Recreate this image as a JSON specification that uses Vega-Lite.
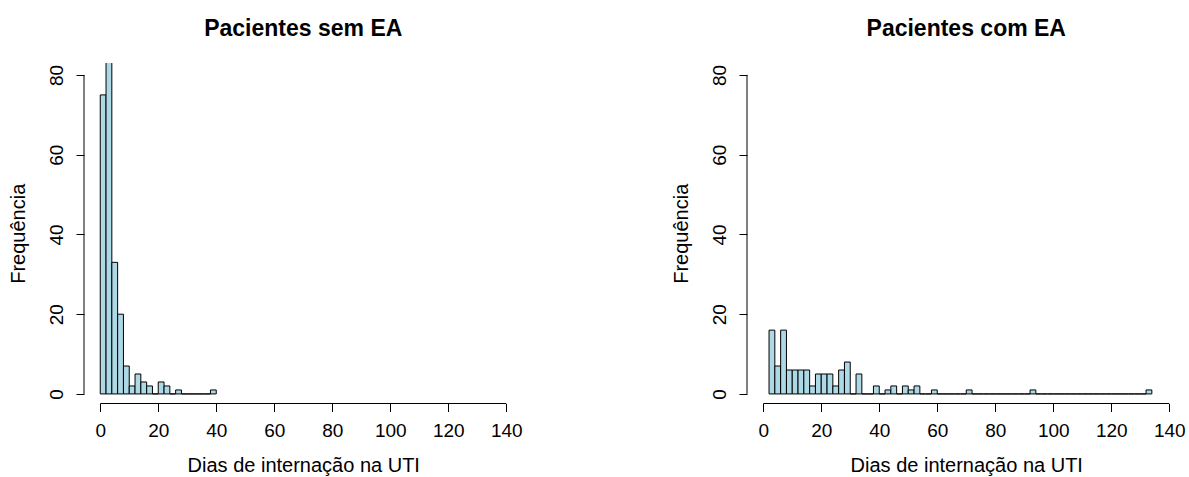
{
  "$schema": "https://vega.github.io/schema/vega-lite/v6.json",
  "background": "white",
  "padding": {"left": 7, "top": 17, "right": 0, "bottom": 0},
  "autosize": {"type": "pad"},
  "bounds": "flush",
  "spacing": 224,
  "config": {
    "view": {"stroke": null},
    "font": "Liberation Sans",
    "axis": {"grid": false, "domain": false, "tickColor": "black", "tickSize": 8, "tickWidth": 1, "labelColor": "black", "labelFont": "Liberation Sans", "labelFontSize": 19, "titleFont": "Liberation Sans", "titleFontSize": 20, "titleFontWeight": "normal", "titleColor": "black", "labelFlush": false, "labelOverlap": false},
    "title": {"font": "Liberation Sans", "fontSize": 23, "fontWeight": "bold", "color": "black", "anchor": "middle", "frame": "group", "baseline": "alphabetic", "offset": 22.5}
  },
  "datasets": {
    "sem": [
      {"inicio": 0, "fim": 2, "frequencia": 75},
      {"inicio": 2, "fim": 4, "frequencia": 90},
      {"inicio": 4, "fim": 6, "frequencia": 33},
      {"inicio": 6, "fim": 8, "frequencia": 20},
      {"inicio": 8, "fim": 10, "frequencia": 7},
      {"inicio": 10, "fim": 12, "frequencia": 2},
      {"inicio": 12, "fim": 14, "frequencia": 5},
      {"inicio": 14, "fim": 16, "frequencia": 3},
      {"inicio": 16, "fim": 18, "frequencia": 2},
      {"inicio": 18, "fim": 20, "frequencia": 0},
      {"inicio": 20, "fim": 22, "frequencia": 3},
      {"inicio": 22, "fim": 24, "frequencia": 2},
      {"inicio": 24, "fim": 26, "frequencia": 0},
      {"inicio": 26, "fim": 28, "frequencia": 1},
      {"inicio": 28, "fim": 30, "frequencia": 0},
      {"inicio": 30, "fim": 32, "frequencia": 0},
      {"inicio": 32, "fim": 34, "frequencia": 0},
      {"inicio": 34, "fim": 36, "frequencia": 0},
      {"inicio": 36, "fim": 38, "frequencia": 0},
      {"inicio": 38, "fim": 40, "frequencia": 1}
    ],
    "com": [
      {"inicio": 2, "fim": 4, "frequencia": 16},
      {"inicio": 4, "fim": 6, "frequencia": 7},
      {"inicio": 6, "fim": 8, "frequencia": 16},
      {"inicio": 8, "fim": 10, "frequencia": 6},
      {"inicio": 10, "fim": 12, "frequencia": 6},
      {"inicio": 12, "fim": 14, "frequencia": 6},
      {"inicio": 14, "fim": 16, "frequencia": 6},
      {"inicio": 16, "fim": 18, "frequencia": 2},
      {"inicio": 18, "fim": 20, "frequencia": 5},
      {"inicio": 20, "fim": 22, "frequencia": 5},
      {"inicio": 22, "fim": 24, "frequencia": 5},
      {"inicio": 24, "fim": 26, "frequencia": 2},
      {"inicio": 26, "fim": 28, "frequencia": 6},
      {"inicio": 28, "fim": 30, "frequencia": 8},
      {"inicio": 30, "fim": 32, "frequencia": 0},
      {"inicio": 32, "fim": 34, "frequencia": 5},
      {"inicio": 34, "fim": 36, "frequencia": 0},
      {"inicio": 36, "fim": 38, "frequencia": 0},
      {"inicio": 38, "fim": 40, "frequencia": 2},
      {"inicio": 40, "fim": 42, "frequencia": 0},
      {"inicio": 42, "fim": 44, "frequencia": 1},
      {"inicio": 44, "fim": 46, "frequencia": 2},
      {"inicio": 46, "fim": 48, "frequencia": 0},
      {"inicio": 48, "fim": 50, "frequencia": 2},
      {"inicio": 50, "fim": 52, "frequencia": 1},
      {"inicio": 52, "fim": 54, "frequencia": 2},
      {"inicio": 54, "fim": 56, "frequencia": 0},
      {"inicio": 56, "fim": 58, "frequencia": 0},
      {"inicio": 58, "fim": 60, "frequencia": 1},
      {"inicio": 60, "fim": 62, "frequencia": 0},
      {"inicio": 62, "fim": 64, "frequencia": 0},
      {"inicio": 64, "fim": 66, "frequencia": 0},
      {"inicio": 66, "fim": 68, "frequencia": 0},
      {"inicio": 68, "fim": 70, "frequencia": 0},
      {"inicio": 70, "fim": 72, "frequencia": 1},
      {"inicio": 72, "fim": 74, "frequencia": 0},
      {"inicio": 74, "fim": 76, "frequencia": 0},
      {"inicio": 76, "fim": 78, "frequencia": 0},
      {"inicio": 78, "fim": 80, "frequencia": 0},
      {"inicio": 80, "fim": 82, "frequencia": 0},
      {"inicio": 82, "fim": 84, "frequencia": 0},
      {"inicio": 84, "fim": 86, "frequencia": 0},
      {"inicio": 86, "fim": 88, "frequencia": 0},
      {"inicio": 88, "fim": 90, "frequencia": 0},
      {"inicio": 90, "fim": 92, "frequencia": 0},
      {"inicio": 92, "fim": 94, "frequencia": 1},
      {"inicio": 94, "fim": 96, "frequencia": 0},
      {"inicio": 96, "fim": 98, "frequencia": 0},
      {"inicio": 98, "fim": 100, "frequencia": 0},
      {"inicio": 100, "fim": 102, "frequencia": 0},
      {"inicio": 102, "fim": 104, "frequencia": 0},
      {"inicio": 104, "fim": 106, "frequencia": 0},
      {"inicio": 106, "fim": 108, "frequencia": 0},
      {"inicio": 108, "fim": 110, "frequencia": 0},
      {"inicio": 110, "fim": 112, "frequencia": 0},
      {"inicio": 112, "fim": 114, "frequencia": 0},
      {"inicio": 114, "fim": 116, "frequencia": 0},
      {"inicio": 116, "fim": 118, "frequencia": 0},
      {"inicio": 118, "fim": 120, "frequencia": 0},
      {"inicio": 120, "fim": 122, "frequencia": 0},
      {"inicio": 122, "fim": 124, "frequencia": 0},
      {"inicio": 124, "fim": 126, "frequencia": 0},
      {"inicio": 126, "fim": 128, "frequencia": 0},
      {"inicio": 128, "fim": 130, "frequencia": 0},
      {"inicio": 130, "fim": 132, "frequencia": 0},
      {"inicio": 132, "fim": 134, "frequencia": 1}
    ]
  },
  "hconcat": [
    {
      "title": "Pacientes sem EA",
      "width": 438.5,
      "height": 340.5,
      "layer": [
        {
          "data": {"name": "sem"},
          "mark": {"type": "bar", "fill": "#ADD8E6", "stroke": "black", "strokeWidth": 1, "clip": true},
          "encoding": {
            "x": {"field": "inicio", "type": "quantitative", "scale": {"domain": [-5.6, 145.6], "nice": false, "zero": false}, "axis": {"values": [0, 20, 40, 60, 80, 100, 120, 140], "title": "Dias de internação na UTI", "labelPadding": 10, "titlePadding": 15, "format": "d"}},
            "x2": {"field": "fim"},
            "y": {"field": "frequencia", "type": "quantitative", "scale": {"domain": [-2.4, 83.0], "nice": false, "zero": false}, "axis": {"values": [0, 20, 40, 60, 80], "title": "Frequência", "labelAngle": -90, "labelAlign": "center", "labelBaseline": "middle", "labelPadding": 20, "titlePadding": 19, "format": "d"}},
            "y2": {"datum": 0}
          }
        },
        {
          "data": {"values": [{}]},
          "mark": {"type": "rule", "color": "black", "strokeWidth": 1, "clip": false},
          "encoding": {"x": {"datum": 0}, "x2": {"datum": 140}, "y": {"datum": -2.4}}
        },
        {
          "data": {"values": [{}]},
          "mark": {"type": "rule", "color": "black", "strokeWidth": 1, "clip": false},
          "encoding": {"x": {"datum": -5.6}, "y": {"datum": 0}, "y2": {"datum": 80}}
        }
      ]
    },
    {
      "title": "Pacientes com EA",
      "width": 438.5,
      "height": 340.5,
      "layer": [
        {
          "data": {"name": "com"},
          "mark": {"type": "bar", "fill": "#ADD8E6", "stroke": "black", "strokeWidth": 1, "clip": true},
          "encoding": {
            "x": {"field": "inicio", "type": "quantitative", "scale": {"domain": [-5.6, 145.6], "nice": false, "zero": false}, "axis": {"values": [0, 20, 40, 60, 80, 100, 120, 140], "title": "Dias de internação na UTI", "labelPadding": 10, "titlePadding": 15, "format": "d"}},
            "x2": {"field": "fim"},
            "y": {"field": "frequencia", "type": "quantitative", "scale": {"domain": [-2.4, 83.0], "nice": false, "zero": false}, "axis": {"values": [0, 20, 40, 60, 80], "title": "Frequência", "labelAngle": -90, "labelAlign": "center", "labelBaseline": "middle", "labelPadding": 20, "titlePadding": 19, "format": "d"}},
            "y2": {"datum": 0}
          }
        },
        {
          "data": {"values": [{}]},
          "mark": {"type": "rule", "color": "black", "strokeWidth": 1, "clip": false},
          "encoding": {"x": {"datum": 0}, "x2": {"datum": 140}, "y": {"datum": -2.4}}
        },
        {
          "data": {"values": [{}]},
          "mark": {"type": "rule", "color": "black", "strokeWidth": 1, "clip": false},
          "encoding": {"x": {"datum": -5.6}, "y": {"datum": 0}, "y2": {"datum": 80}}
        }
      ]
    }
  ]
}
